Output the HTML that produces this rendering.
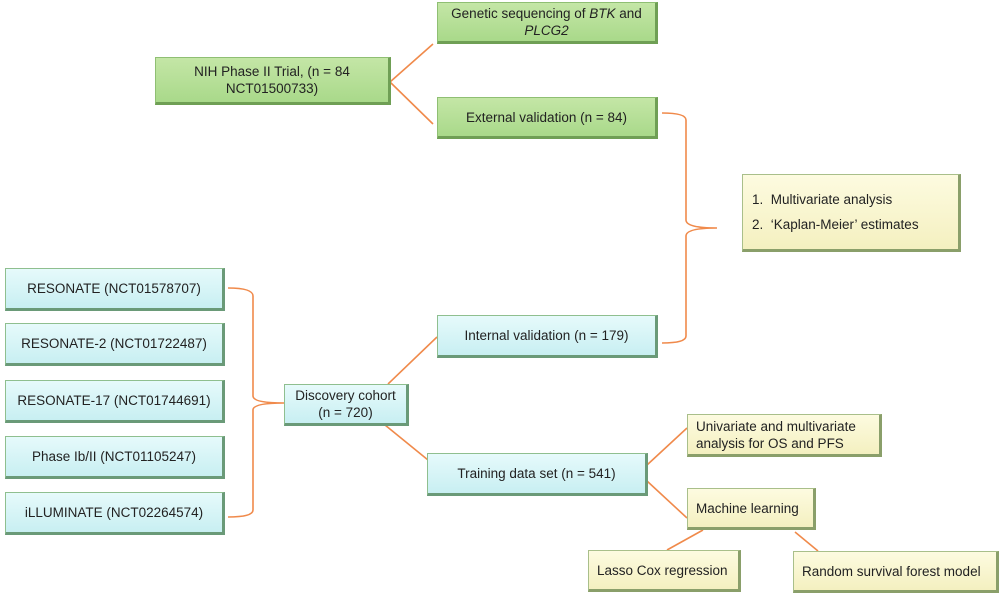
<!DOCTYPE html>
<html><head><meta charset="utf-8"><style>
body{margin:0;width:1000px;height:595px;background:#fff;position:relative;overflow:hidden;font-family:"Liberation Sans",Arial,sans-serif;}
.b{position:absolute;box-sizing:border-box;display:flex;align-items:center;justify-content:center;text-align:center;font-size:13.5px;color:#222;line-height:17px;border:1.5px solid;border-right-width:3px;border-bottom-width:3px;}
.g{background:linear-gradient(#c4e6a6,#a9d98a);border-color:#8fbf73 #6f9f55 #6f9f55 #8fbf73;}
.c{background:linear-gradient(#e6fafb,#c8eff2);border-color:#8fbf8f #6a9a78 #6a9a78 #8fbf8f;}
.y{background:linear-gradient(#fdfbe0,#f4f0c0);border-color:#a9bf8a #8a9f6a #8a9f6a #a9bf8a;}
.l{justify-content:flex-start;text-align:left;padding-left:8px;}
</style></head><body>
<svg width="1000" height="595" style="position:absolute;left:0;top:0" fill="none" stroke="#f08a4b" stroke-width="1.6">
<path d="M390 82 L433 44 M390 82 L433 124"/>
<path d="M662 113 Q686 113 686 120 L686 220 Q686 228 717 228 Q686 228 686 236 L686 336 Q686 343 662 343"/>
<path d="M228 288 Q253 288 253 296 L253 396 Q253 403 284 403 Q253 403 253 410 L253 510 Q253 517 228 517"/>
<path d="M388 384 L437 337 M385 425 L428 460"/>
<path d="M647 465 L687 428 M647 481 L687 518"/>
<path d="M703 530 L667 550 M795 532 L818 551"/>
</svg>
<div class="b g" style="left:437px;top:2px;width:221px;height:42px"><div>Genetic sequencing of <i>BTK</i> and<br><i>PLCG2</i></div></div>
<div class="b g" style="left:155px;top:57px;width:236px;height:48px"><div>NIH Phase II Trial, (n = 84<br>NCT01500733)</div></div>
<div class="b g" style="left:437px;top:97px;width:221px;height:42px"><div>External validation (n = 84)</div></div>
<div class="b y l" style="left:742px;top:174px;width:219px;height:78px;padding-left:9px"><div style="line-height:25px">1.&nbsp;&nbsp;Multivariate analysis<br>2.&nbsp;&nbsp;‘Kaplan-Meier’ estimates</div></div>
<div class="b c" style="left:437px;top:315px;width:221px;height:43px"><div>Internal validation (n = 179)</div></div>
<div class="b c" style="left:5px;top:268px;width:220px;height:43px"><div>RESONATE (NCT01578707)</div></div>
<div class="b c" style="left:5px;top:323px;width:220px;height:43px"><div>RESONATE-2 (NCT01722487)</div></div>
<div class="b c" style="left:5px;top:380px;width:220px;height:43px"><div>RESONATE-17 (NCT01744691)</div></div>
<div class="b c" style="left:5px;top:436px;width:220px;height:43px"><div>Phase Ib/II (NCT01105247)</div></div>
<div class="b c" style="left:5px;top:492px;width:220px;height:43px"><div>iLLUMINATE (NCT02264574)</div></div>
<div class="b c" style="left:284px;top:384px;width:125px;height:42px"><div>Discovery cohort<br>(n = 720)</div></div>
<div class="b c" style="left:427px;top:453px;width:221px;height:43px"><div>Training data set (n = 541)</div></div>
<div class="b y l" style="left:687px;top:414px;width:195px;height:43px"><div>Univariate and multivariate<br>analysis for OS and PFS</div></div>
<div class="b y l" style="left:687px;top:488px;width:129px;height:42px"><div>Machine learning</div></div>
<div class="b y l" style="left:588px;top:550px;width:153px;height:42px"><div>Lasso Cox regression</div></div>
<div class="b y l" style="left:793px;top:551px;width:206px;height:42px"><div>Random survival forest model</div></div>
</body></html>
